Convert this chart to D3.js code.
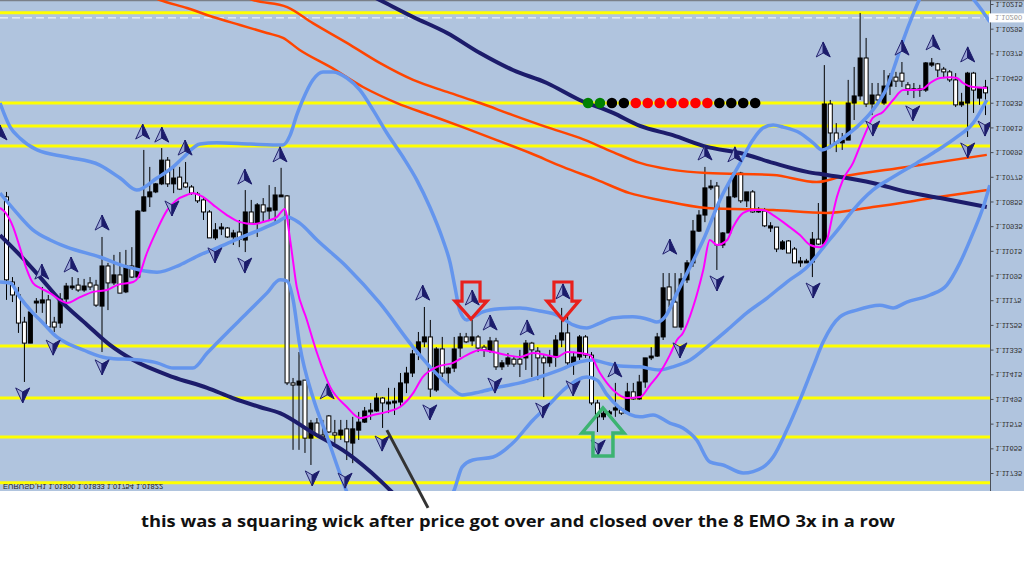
<!DOCTYPE html>
<html>
<head>
<meta charset="utf-8">
<script src="https://cdn.jsdelivr.net/npm/d3@7"></script>
<style>
body { margin: 0; background: #fff; }
svg { display: block; }
</style>
</head>
<body>
<svg id="chart" width="1024" height="579"></svg>
<script>
// prices in points (1 point = 0.00001), EURUSD H1
const open = [110840,111116,111158,111246,111314,111184,111184,111174,111246,111249,
111171,111135,111126,111142,111119,111126,111194,111064,111119,111093,
111148,111064,111100,110886,110840,110824,110798,110721,110798,110776,
110795,110808,110831,110850,110889,110973,110944,110941,110970,110954,
110980,110889,110925,110866,110886,110883,110840,110837,111443,111450,
111434,111622,111573,111612,111550,111605,111612,111592,111638,111596,
111570,111537,111534,111492,111511,111508,111505,111443,111411,111349,
111310,111294,111466,111333,111411,111395,111330,111294,111307,111294,
111327,111340,111307,111391,111382,111366,111366,111362,111314,111340,
111362,111378,111359,111304,111281,111378,111359,111294,111353,111508,
111553,111544,111531,111528,111541,111472,111495,111440,111362,111356,
111294,111132,111181,111262,111109,111054,110951,110899,110811,110805,
110996,110957,110840,110763,110853,110824,110889,110886,110941,110938,
111009,110983,111009,111054,111054,111051,110977,110993,110539,110633,
110665,110656,110536,110513,110390,110539,110510,110536,110481,110452,
110439,110477,110494,110494,110494,110413,110409,110426,110435,110461,
110542,110536,110439,110520,110484];
const high = [111174,111181,111281,111440,111314,111216,111216,111265,111278,111265,
111181,111142,111148,111148,111142,111197,111343,111207,111126,111152,
111152,111103,111103,110889,110873,110828,110802,110808,110828,110818,
110811,110834,110860,110915,110973,110980,110964,110973,110996,111003,
111019,110925,110970,110922,110915,110925,110840,111450,111660,111660,
111670,111709,111618,111628,111605,111638,111628,111693,111703,111628,
111573,111563,111537,111589,111541,111547,111521,111476,111424,111369,
111327,111489,111472,111424,111450,111408,111359,111314,111323,111343,
111359,111346,111401,111401,111391,111391,111424,111401,111424,111434,
111489,111391,111391,111327,111391,111417,111369,111362,111515,111602,
111563,111553,111553,111547,111541,111498,111498,111459,111369,111359,
111304,111197,111262,111272,111119,111067,110954,110922,110818,111077,
111006,110957,110844,110860,110873,110892,110892,110938,110954,111019,
111012,111022,111054,111067,111054,111100,110996,110996,110682,110695,
110688,110656,110591,110526,110549,110575,110542,110542,110510,110484,
110484,110510,110520,110516,110500,110419,110452,110455,110468,110549,
110549,110646,110568,110542,110575];
const low = [110824,111100,111132,111229,111213,111168,111132,111158,111229,111152,
111119,111100,111103,111106,111100,111109,110970,111054,111028,111019,
111012,111003,110883,110688,110743,110795,110682,110711,110737,110743,
110727,110802,110824,110844,110883,110925,110925,110938,110947,110915,
110818,110850,110860,110844,110802,110808,110746,110834,111427,111343,
111434,111563,111557,111563,111547,111563,111563,111563,111553,111537,
111521,111508,111476,111489,111459,111459,111411,111391,111336,111278,
111197,111239,111327,111294,111391,111294,111281,111281,111239,111288,
111320,111294,111297,111369,111346,111359,111336,111304,111310,111327,
111353,111336,111288,111200,111223,111343,111288,111288,111343,111498,
111521,111531,111443,111521,111443,111443,111417,111362,111327,111281,
111087,111087,111087,111087,111045,110915,110883,110743,110785,110792,
110954,110795,110759,110759,110824,110818,110873,110876,110922,110938,
110980,110980,111003,111035,111041,110954,110860,110413,110526,110601,
110633,110461,110419,110244,110325,110471,110471,110429,110439,110435,
110403,110468,110471,110477,110403,110390,110406,110419,110429,110439,
110503,110435,110435,110484,110461];
const close = [111109,111158,111249,111314,111213,111178,111174,111262,111262,111171,
111129,111129,111142,111129,111132,111191,111064,111119,111093,111152,
111064,111100,110886,110840,110824,110798,110721,110798,110779,110815,
110808,110828,110853,110889,110973,110947,110938,110970,110957,110977,
110889,110925,110866,110889,110876,110834,110834,111443,111450,111437,
111622,111573,111612,111618,111602,111612,111596,111634,111592,111570,
111534,111531,111492,111508,111505,111502,111443,111411,111349,111310,
111294,111463,111333,111411,111395,111333,111294,111310,111294,111330,
111336,111307,111391,111378,111362,111382,111382,111314,111336,111362,
111378,111359,111304,111281,111378,111359,111294,111353,111508,111553,
111541,111537,111524,111541,111472,111495,111440,111362,111356,111294,
111135,111174,111262,111106,111054,110951,110899,110811,110805,110996,
110957,110840,110763,110853,110824,110889,110883,110934,110934,111009,
110986,111022,111054,111048,111048,110977,110993,110539,110633,110665,
110656,110536,110513,110390,110539,110510,110526,110481,110448,110465,
110465,110490,110490,110490,110406,110406,110429,110435,110461,110542,
110533,110439,110494,110487,110503];

// [bar, price] points
const bbUpper = [[-1,110536],[0.7,110614],[2.3,110649],[5.2,110688],[10.2,110711],[15.7,110737],[19.1,110779],[21.9,110818],
[25.3,110779],[28,110743],[29.6,110714],[32.5,110669],[35.3,110665],[40.9,110669],[46.4,110672],[47.6,110640],[48.7,110575],
[49.7,110526],[51.4,110461],[53.1,110435],[54.8,110435],[57.1,110455],[59.3,110494],[61.5,110559],[63.8,110633],[66.5,110711],
[68.8,110785],[71,110873],[73.2,110980],[74.4,111054],[75.2,111132],[76,111207],[77.2,111239],[78.6,111226],[79.9,111213],
[82.7,111203],[86.1,111200],[89.4,111210],[92.3,111223],[95,111255],[97.3,111265],[99.5,111249],[101.7,111233],[105,111229],
[107.9,111239],[109,111246],[110.4,111229],[112.4,111152],[114.6,111067],[116.8,110980],[119.6,110850],[123,110730],
[125.1,110656],[126.8,110617],[128.5,110607],[130.2,110614],[133,110633],[135.2,110665],[136.7,110688],[138,110678],
[139.7,110656],[142.5,110614],[145.2,110559],[147.6,110484],[149.2,110396],[150.3,110332],[151.9,110251],[153.4,110186],
[156.5,110137],[160.6,110170],[163.2,110228],[164.8,110273]];
const bbMiddle = [[-1,110828],[1.8,110892],[4.5,110947],[7.4,110980],[10.2,111003],[15.7,111035],[20.3,111067],[22.4,111077],
[25.3,111084],[29.1,111061],[32.5,111028],[35.3,111006],[39.2,110973],[42.5,110947],[45.4,110922],[47.1,110905],[49.2,110925],
[52.1,110980],[57.1,111067],[62.6,111184],[68.2,111327],[71.5,111401],[74.4,111456],[76.4,111482],[79.4,111472],[82.7,111456],
[86.1,111443],[89.4,111424],[92.8,111401],[96.1,111375],[98.2,111369],[100.3,111378],[102.8,111388],[106.2,111391],
[109.5,111401],[111.7,111391],[114.6,111369],[117.4,111327],[120.8,111272],[124.1,111216],[127.5,111168],[130.8,111116],
[134.2,111067],[137.5,110990],[139.7,110938],[141.9,110883],[145.2,110818],[148.6,110776],[152.6,110730],[155.3,110698],
[159.3,110646],[162,110601],[164.3,110526]];
const bbLower = [[-1,111116],[0.7,111119],[2.3,111165],[4.5,111216],[6.2,111249],[8.5,111294],[10.2,111314],[12.9,111336],
[16.9,111362],[22.4,111369],[25.3,111378],[28,111395],[31.3,111395],[33.7,111346],[37,111281],[40.4,111216],[43.7,111152],
[45.9,111109],[47.1,111113],[48.1,111174],[49.2,111320],[51.4,111489],[53.8,111618],[55.9,111735],[58,111839],[62.6,111968],
[69.3,111968],[74,111839],[75.2,111784],[76.4,111716],[78.2,111693],[81.6,111683],[84.9,111638],[88.3,111563],[90.6,111521],
[94,111456],[97.3,111424],[99,111434],[100.7,111482],[102.8,111524],[106.2,111553],[108.4,111547],[111.2,111573],[113.4,111589],
[115.7,111628],[117.9,111699],[120.1,111709],[123.5,111735],[126.8,111716],[128.5,111683],[130.8,111596],[133,111498],
[135.2,111391],[136.9,111310],[139.7,111229],[142.5,111207],[146.4,111191],[148.6,111200],[150.9,111181],[154.8,111158],
[157.6,111126],[159.8,111054],[162,110957],[163.7,110873],[164.8,110802]];
const ema8 = [[-1,110876],[-0.2,110889],[1.2,110938],[2.3,111003],[3.5,111077],[4.5,111119],[5.7,111135],[7.4,111152],
[9,111174],[10.2,111184],[12.4,111165],[14.6,111148],[16.9,111142],[18.6,111126],[21.3,111116],[22.1,111103],[23.6,111022],
[25.3,110947],[27,110883],[28.6,110850],[30.3,110834],[31.3,110828],[33,110840],[34.7,110866],[37,110899],[39.2,110922],
[41.4,110928],[43.7,110918],[45.4,110905],[46.7,110879],[47.6,110980],[48.7,111132],[50.4,111239],[52.1,111346],[54.3,111456],
[57.1,111521],[59.3,111557],[61.5,111547],[63.8,111537],[66,111521],[68.2,111476],[69.8,111424],[72.2,111391],[74.9,111378],
[77.2,111353],[79.4,111336],[81.6,111343],[83.9,111353],[86.1,111359],[88.3,111346],[90.6,111353],[92.3,111359],[94,111343],
[96.1,111346],[97.8,111353],[99.5,111411],[101.7,111466],[104,111492],[106.2,111489],[107.9,111450],[109.5,111411],
[111.2,111353],[112.4,111304],[113.4,111281],[115.1,111197],[116.8,111077],[117.9,110980],[119.1,110996],[120.8,110980],
[121.8,110938],[123.5,110892],[125.1,110883],[126.8,110883],[128.5,110899],[130.8,110931],[133,110964],[134.7,110996],
[136.3,111003],[137.5,110980],[138.4,110905],[139.2,110840],[140.2,110785],[141.9,110730],[143,110678],[144.2,110623],
[145.2,110584],[146.9,110565],[148.6,110526],[150.3,110494],[151.9,110494],[153.6,110490],[154.8,110471],[156.5,110455],
[158.2,110452],[159.3,110455],[160.3,110471],[162,110484],[164.3,110487]];
const maFast = [[39.2,110186],[41.4,110202],[47.1,110225],[51.4,110277],[57.1,110341],[62.6,110406],[68.2,110461],[73.9,110500],
[79.4,110536],[84.9,110575],[90.6,110614],[96.1,110649],[101.7,110695],[106.2,110730],[117.4,110763],[128.5,110769],
[135.8,110792],[139.7,110776],[150.9,110743],[164.3,110704]];
const maSlow = [[23.8,110186],[25.8,110202],[30.3,110228],[34.7,110257],[39.2,110283],[43.7,110309],[46.4,110325],[49.2,110364],
[54.3,110419],[59.8,110484],[65.5,110536],[71,110575],[76.5,110614],[82.2,110656],[87.8,110698],[93.3,110743],[99,110785],
[104.5,110828],[109.5,110850],[117.4,110876],[128.5,110883],[137.5,110892],[145.2,110873],[156.5,110840],[164.3,110818]];
const trendA = [[-1,110964],[2.3,111028],[5.7,111100],[9,111174],[13.6,111255],[17.4,111320],[21.3,111369],[28,111424],
[33.7,111459],[38,111492],[42.5,111521],[45.9,111541],[51.4,111605],[57.1,111670],[62.6,111758],[66,111823]];
const trendB = [[59.3,110170],[62.6,110202],[68.2,110257],[73.9,110309],[79.4,110374],[84.9,110429],[90.6,110471],[96.1,110526],
[101.7,110568],[106.2,110610],[111.7,110640],[117.4,110678],[123,110698],[128.5,110730],[134.2,110759],[137.5,110769],
[145.2,110795],[150.9,110824],[156.5,110844],[164.3,110873]];

const fractalUp = [[-1,110633],[6,111084],[10.9,111061],[16.1,110925],[22.9,110630],[26.1,110640],[30,110682],[40,110776],
[45.9,110704],[53.8,111472],[69.8,111152],[78.1,111168],[81.1,111249],[87.3,111265],[93.3,111148],[102,111401],[111.2,111003],
[117.1,110698],[122.1,110704],[136.9,110364],[150.1,110358],[155.3,110341],[161.1,110380]];
const fractalDown = [[2.8,111482],[7.9,111327],[16.1,111391],[27.8,110876],[35,111028],[40,111061],[51.3,111751],[56.8,111758],
[63,111638],[71,111537],[81.9,111450],[89.9,111531],[95,111459],[99.2,111651],[112.9,111336],[119.1,111119],[135.2,111142],
[145.2,110617],[151.9,110568],[161.1,110688],[164,110617]];

const levels = [110243, 110536, 110610, 110675, 111323, 111492, 111618, 111767];
const bidLine = 110260;
const signalBars = [97.5, 99.5, 101.5, 103.5, 105.5, 107.5, 109.5, 111.5, 113.5, 115.5, 117.5, 119.5, 121.5, 123.5, 125.5];
const signalColors = ["#008000","#008000","#000","#000","#f00","#f00","#f00","#f00","#f00","#f00","#f00","#000","#000","#000","#000"];
const signalPrice = 110536;
const tickLabels = ["1.10215","1.10295","1.10375","1.10455","1.10535","1.10615","1.10695","1.10775","1.10855","1.10935",
"1.11015","1.11095","1.11175","1.11255","1.11335","1.11415","1.11495","1.11575","1.11655","1.11735"];
const infoText = "EURUSD,H1  1.01800 1.01833 1.01754 1.01822";
const caption = "this was a squaring wick after price got over and closed over the 8 EMO 3x in a row";

// annotation marks: [bar, topPrice, headPrice, tipPrice]
const redArrows = [[77.9, 111116, 111178, 111236], [93.3, 111116, 111178, 111239]];
const greenArrow = [100, 111680, 111605, 111524];
const pointer = [[63.8, 111596], [70.7, 111848]];

const svg = d3.select("#chart");
const plotW = 990, plotH = 491;

const x = d3.scaleLinear().domain([0, 164]).range([6, 985]);
const y = d3.scaleLinear().domain([110215, 111735]).range([4, 473]);

svg.append("rect").attr("width", 1024).attr("height", plotH).attr("fill", "#b0c4de");
svg.append("line").attr("x1", 0).attr("x2", 1024).attr("y1", 0.5).attr("y2", 0.5).attr("stroke", "#7a7f88").attr("stroke-width", 1.5);

svg.append("clipPath").attr("id", "plot").append("rect").attr("width", plotW).attr("height", plotH);
const g = svg.append("g").attr("clip-path", "url(#plot)");

g.selectAll(".level").data(levels).enter().append("line")
  .attr("x1", 0).attr("x2", 993)
  .attr("y1", d => y(d)).attr("y2", d => y(d))
  .attr("stroke", "#ffff00").attr("stroke-width", 3);

g.append("line")
  .attr("x1", 0).attr("x2", plotW).attr("y1", y(bidLine)).attr("y2", y(bidLine))
  .attr("stroke", "#fff").attr("stroke-width", 1).attr("stroke-dasharray", "8,4");

// candles
const bars = g.append("g").selectAll("g").data(open).enter().append("g");
bars.append("line")
  .attr("x1", (d, i) => x(i) + 0.5).attr("x2", (d, i) => x(i) + 0.5)
  .attr("y1", (d, i) => y(low[i])).attr("y2", (d, i) => y(high[i]))
  .attr("stroke", "#000").attr("stroke-width", 1);
bars.append("rect")
  .attr("x", (d, i) => x(i) - 1.5)
  .attr("width", 4)
  .attr("y", (d, i) => Math.min(y(open[i]), y(close[i])))
  .attr("height", (d, i) => Math.max(1, Math.abs(y(open[i]) - y(close[i]))))
  .attr("fill", (d, i) => close[i] > open[i] ? "#fff" : "#000")
  .attr("stroke", "#000").attr("stroke-width", 1);

const line = d3.line().x(d => x(d[0])).y(d => y(d[1])).curve(d3.curveMonotoneX);

g.append("path").attr("d", line(maFast)).attr("fill", "none").attr("stroke", "#ff4500").attr("stroke-width", 2.5);
g.append("path").attr("d", line(maSlow)).attr("fill", "none").attr("stroke", "#ff4500").attr("stroke-width", 2.5);
[trendA, trendB].forEach(s => {
  g.append("path").attr("d", line(s)).attr("fill", "none").attr("stroke", "#1c1c6b").attr("stroke-width", 4);
});
[bbUpper, bbMiddle, bbLower].forEach(s => {
  g.append("path").attr("d", line(s)).attr("fill", "none").attr("stroke", "#6495ed").attr("stroke-width", 3.5);
});
g.append("path").attr("d", line(ema8)).attr("fill", "none").attr("stroke", "#ff00ff").attr("stroke-width", 2);

// fractal arrows
function arrow(sel, pts, dir) {
  const a = sel.selectAll(null).data(pts).enter().append("g")
    .attr("transform", d => `translate(${x(d[0])},${y(d[1])}) scale(1,${dir})`);
  a.append("path").attr("d", "M0,-8L-7,7L0,3Z").attr("fill", "#9aa6d6").attr("stroke", "#23236e").attr("stroke-width", 1);
  a.append("path").attr("d", "M0,-8L7,7L0,3Z").attr("fill", "#1c1c6b").attr("stroke", "#1c1c6b").attr("stroke-width", 1);
}
arrow(g, fractalUp, 1);
arrow(g, fractalDown, -1);

g.selectAll(".sig").data(signalBars).enter().append("circle")
  .attr("cx", d => x(d)).attr("cy", y(signalPrice)).attr("r", 5.3)
  .attr("fill", (d, i) => signalColors[i]);

// hollow call-out arrows
function blockArrow(d, shaft, head) {
  const cx = x(d[0]), t = y(d[1]), h = y(d[2]), p = y(d[3]);
  return `M${cx - shaft},${t}L${cx + shaft},${t}L${cx + shaft},${h}L${cx + head},${h}L${cx},${p}L${cx - head},${h}L${cx - shaft},${h}Z`;
}
redArrows.forEach(d => {
  svg.append("path").attr("d", blockArrow(d, 9, 16)).attr("fill", "none")
    .attr("stroke", "#e8201c").attr("stroke-width", 3.2).attr("stroke-linejoin", "miter");
});
svg.append("path").attr("d", blockArrow(greenArrow, 10, 21)).attr("fill", "none")
  .attr("stroke", "#3cb371").attr("stroke-width", 3.5);

svg.append("line")
  .attr("x1", x(pointer[0][0])).attr("y1", y(pointer[0][1]))
  .attr("x2", x(pointer[1][0])).attr("y2", y(pointer[1][1]))
  .attr("stroke", "#333").attr("stroke-width", 3);

// price axis (the chart is mirrored top to bottom, so its labels are too)
svg.append("line").attr("x1", 990.5).attr("x2", 990.5).attr("y1", 0).attr("y2", plotH)
  .attr("stroke", "#4a4f58").attr("stroke-width", 1);
const axis = d3.axisRight(y).tickValues(tickLabels.map(t => Math.round(+t * 1e5)))
  .tickFormat((d, i) => tickLabels[i]).tickSize(3).tickPadding(2).tickSizeOuter(0);
const ax = svg.append("g").attr("transform", "translate(990.5,0)").call(axis);
ax.select(".domain").remove();
ax.selectAll("line").attr("stroke", "#4a4f58");
ax.selectAll("text")
  .attr("transform", "scale(1,-1)")
  .attr("font-family", "Liberation Sans, Arial, sans-serif").attr("font-size", 7.5).attr("fill", "#333");

const bidY = y(bidLine);
svg.append("rect").attr("x", 989).attr("y", bidY - 4.5).attr("width", 35).attr("height", 9).attr("fill", "#fff");
svg.append("text").attr("transform", `translate(995,${bidY}) scale(1,-1)`).attr("dy", "0.32em")
  .attr("font-family", "Liberation Sans, Arial, sans-serif").attr("font-size", 7.5).attr("fill", "#999")
  .text("1.10260");

svg.append("text").attr("transform", `translate(3,${plotH - 7}) scale(1,-1)`)
  .attr("font-family", "Liberation Sans, Arial, sans-serif").attr("font-size", 7.5).attr("fill", "#222")
  .text(infoText);

svg.append("text").attr("x", 518).attr("y", 527).attr("text-anchor", "middle")
  .attr("font-family", "Open Sans, sans-serif").attr("font-weight", 700).attr("font-size", 15.5)
  .attr("fill", "#111").attr("textLength", 754).attr("lengthAdjust", "spacingAndGlyphs")
  .text(caption);
</script>
</body>
</html>
